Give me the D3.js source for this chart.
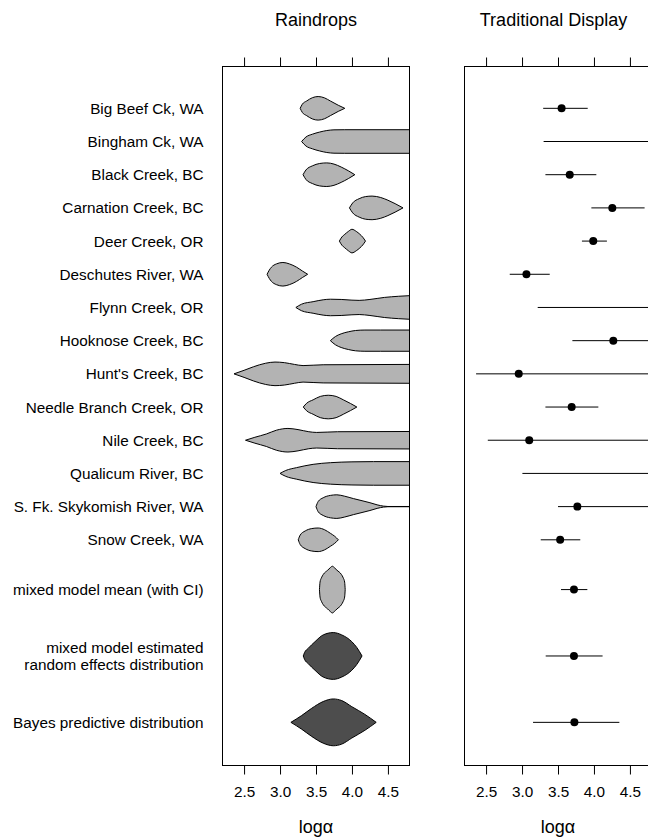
<!DOCTYPE html>
<html><head><meta charset="utf-8">
<script src="https://cdn.jsdelivr.net/npm/d3@7"></script>
<style>
body{margin:0;background:#fff}
svg{display:block}
text{font-family:"Liberation Sans",Arial,Helvetica,sans-serif;fill:#000}
</style>
</head><body>
<svg id="c" width="648" height="840"></svg>
<script>
// ---------- data ----------
const streams = ["Big Beef Ck, WA","Bingham Ck, WA","Black Creek, BC","Carnation Creek, BC","Deer Creek, OR",
  "Deschutes River, WA","Flynn Creek, OR","Hooknose Creek, BC","Hunt's Creek, BC","Needle Branch Creek, OR",
  "Nile Creek, BC","Qualicum River, BC","S. Fk. Skykomish River, WA","Snow Creek, WA"];
const modelLabels = ["mixed model mean (with CI)","mixed model estimated\nrandom effects distribution","Bayes predictive distribution"];
const xTicks = [2.5, 3.0, 3.5, 4.0, 4.5];

// raindrop profiles: [log alpha, relative half-width]
const dropBigBeef   = [[3.28,0],[3.31,0.35],[3.37,0.62],[3.45,0.9],[3.53,1],[3.62,0.88],[3.70,0.62],[3.81,0.26],[3.90,0]];
const dropBingham   = [[3.30,0],[3.36,0.38],[3.45,0.62],[3.55,0.8],[3.65,0.93],[3.75,0.99],[3.9,1],[4.8,1]];
const dropBlack     = [[3.32,0],[3.36,0.4],[3.45,0.75],[3.55,0.95],[3.65,1],[3.75,0.9],[3.85,0.65],[3.95,0.33],[4.04,0]];
const dropCarnation = [[3.965,0],[4.01,0.42],[4.1,0.78],[4.19,0.96],[4.28,1],[4.4,0.88],[4.5,0.65],[4.6,0.36],[4.71,0]];
const dropDeer      = [[3.825,0],[3.86,0.35],[3.90,0.57],[3.95,0.82],[4.0,1],[4.06,0.82],[4.11,0.58],[4.15,0.33],[4.188,0]];
const dropDeschutes = [[2.82,0],[2.85,0.35],[2.88,0.6],[2.95,0.88],[3.04,1],[3.13,0.88],[3.23,0.6],[3.31,0.28],[3.384,0]];
const dropFlynn     = [[3.22,0],[3.3,0.28],[3.46,0.49],[3.6,0.65],[3.7,0.7],[3.85,0.68],[4.0,0.62],[4.1,0.6],[4.25,0.68],[4.45,0.85],[4.65,0.95],[4.8,1.0]];
const dropHooknose  = [[3.70,0],[3.77,0.35],[3.85,0.58],[3.95,0.75],[4.05,0.86],[4.18,0.9],[4.4,0.9],[4.8,0.9]];
const dropHunts     = [[2.36,0],[2.5,0.3],[2.63,0.6],[2.8,0.9],[2.93,1],[3.06,0.95],[3.2,0.8],[3.32,0.7],[3.6,0.77],[4.8,0.8]];
const dropNeedle    = [[3.323,0],[3.37,0.32],[3.46,0.61],[3.56,0.9],[3.67,1],[3.78,0.9],[3.88,0.61],[3.98,0.3],[4.068,0]];
const dropNile      = [[2.52,0],[2.65,0.25],[2.81,0.53],[2.95,0.85],[3.11,1],[3.25,0.9],[3.4,0.72],[3.51,0.66],[3.8,0.72],[4.8,0.74]];
const dropQualicum  = [[3.0,0],[3.08,0.25],[3.23,0.49],[3.46,0.77],[3.7,0.91],[4.0,0.98],[4.3,1],[4.8,1]];
const dropSkykomish = [[3.5,0],[3.53,0.43],[3.6,0.75],[3.7,0.95],[3.79,1],[3.9,0.88],[4.02,0.68],[4.14,0.5],[4.25,0.33],[4.35,0.15],[4.44,0.04],[4.5,0.01],[4.8,0.01]];
const dropSnow      = [[3.253,0],[3.28,0.4],[3.35,0.75],[3.44,0.95],[3.53,1],[3.62,0.85],[3.7,0.55],[3.76,0.3],[3.811,0]];
const dropMean      = [[3.548,0],[3.556,0.32],[3.575,0.5],[3.602,0.65],[3.663,0.83],[3.70,0.94],[3.727,1],[3.754,0.94],[3.791,0.83],[3.852,0.65],[3.879,0.5],[3.898,0.32],[3.906,0]];
const dropRandom    = [[3.323,0],[3.34,0.14],[3.393,0.33],[3.486,0.61],[3.6,0.9],[3.74,1],[3.858,0.9],[3.998,0.61],[4.068,0.36],[4.14,0]];
const dropBayes     = [[3.151,0],[3.3,0.29],[3.44,0.6],[3.6,0.89],[3.74,1],[3.858,0.93],[3.998,0.67],[4.18,0.34],[4.337,0]];

const streamDrops = [dropBigBeef,dropBingham,dropBlack,dropCarnation,dropDeer,dropDeschutes,dropFlynn,
  dropHooknose,dropHunts,dropNeedle,dropNile,dropQualicum,dropSkykomish,dropSnow];
const modelDrops = [dropMean, dropRandom, dropBayes];

// traditional display: estimate and 95% interval
const streamEst = [3.55, 5.2, 3.663, 4.255, 3.99, 3.061, 5.1, 4.269, 2.954, 3.69, 3.10, 5.0, 3.769, 3.53];
const streamLo  = [3.294, 3.30, 3.325, 3.964, 3.833, 2.829, 3.218, 3.70, 2.361, 3.325, 2.524, 3.005, 3.50, 3.26];
const streamHi  = [3.913, 7.0, 4.033, 4.704, 4.18, 3.385, 7.0, 6.0, 6.0, 4.061, 6.0, 7.0, 6.0, 3.81];
const modelEst  = [3.722, 3.722, 3.728];
const modelLo   = [3.542, 3.329, 3.153];
const modelHi   = [3.908, 4.12, 4.353];

// ---------- layout ----------
const svg = d3.select("#c");
const panelTop = 66.5, panelBottom = 765.5;
const y = d3.scaleLinear().domain([-1.26, 19.8]).range([panelTop, panelBottom]);
const xL = d3.scaleLinear().domain([2.2, 4.8]).range([222.5, 409.5]);
const xR = d3.scaleLinear().domain([2.2, 4.8]).range([464.5, 651.5]);
const wS = d3.scaleLinear().domain([0,1]).range([0, 11.8]);
const wM = d3.scaleLinear().domain([0,1]).range([0, 23.4]);

const streamPos = streams.map((d,i)=>i);
const modelPos = modelLabels.map((d,k)=>streams.length - 1 + 1.5 + 2*k);

const defs = svg.append("defs");
[["clipL", xL], ["clipR", xR]].forEach(([id, xs]) => {
  defs.append("clipPath").attr("id", id).append("rect")
    .attr("x", xs.range()[0]).attr("y", panelTop)
    .attr("width", xs.range()[1]-xs.range()[0]).attr("height", panelBottom-panelTop);
});

// row labels
const labFs = 15.3;
function label(txt, pos){
  const lines = txt.split("\n");
  const t = svg.append("text").attr("text-anchor","end").attr("font-size", labFs);
  const yc = y(pos) + 5.5;
  lines.forEach((ln,i)=>{
    t.append("tspan").attr("x", 203.5)
     .attr("y", yc + (i - (lines.length-1)/2) * 17.3).text(ln);
  });
}
streams.forEach((s,i)=>label(s, streamPos[i]));
modelLabels.forEach((s,k)=>label(s, modelPos[k]));

// titles
svg.append("text").attr("x", (xL.range()[0]+xL.range()[1])/2).attr("y", 25.7)
  .attr("text-anchor","middle").attr("font-size", 18).text("Raindrops");
svg.append("text").attr("x", 553.5).attr("y", 25.7)
  .attr("text-anchor","middle").attr("font-size", 18).text("Traditional Display");

// axes + frames
function axes(xs){
  const gT = svg.append("g").attr("transform", `translate(0,${panelTop})`)
    .call(d3.axisTop(xs).tickValues(xTicks).tickSize(9).tickSizeOuter(0).tickFormat(""));
  gT.select(".domain").remove();
  const gB = svg.append("g").attr("transform", `translate(0,${panelBottom})`)
    .call(d3.axisBottom(xs).tickValues(xTicks).tickSize(9).tickSizeOuter(0).tickPadding(12)
      .tickFormat(d3.format(".1f")));
  gB.select(".domain").remove();
  [gT,gB].forEach(g=>{
    g.selectAll("line").attr("stroke","#000");
    g.selectAll("text").attr("font-size", labFs)
      .attr("font-family",'"Liberation Sans",Arial,Helvetica,sans-serif').attr("fill","#000");
  });
  svg.append("rect").attr("x", xs.range()[0]).attr("y", panelTop)
    .attr("width", xs.range()[1]-xs.range()[0]).attr("height", panelBottom-panelTop)
    .attr("fill","none").attr("stroke","#000").attr("stroke-width",1);
  svg.append("text").attr("x", (xs.range()[0]+xs.range()[1])/2).attr("y", 833)
    .attr("text-anchor","middle").attr("font-size", 18).text("logα");
}

// raindrops
const gL = svg.append("g").attr("clip-path","url(#clipL)");
function drop(profile, pos, ws, fill){
  const yc = y(pos);
  const area = d3.area()
    .x(d=>xL(d[0])).y0(d=>yc + ws(d[1])).y1(d=>yc - ws(d[1]))
    .curve(d3.curveMonotoneX);
  gL.append("path").attr("d", area(profile))
    .attr("fill", fill).attr("stroke","#000").attr("stroke-width",1).attr("stroke-linejoin","round");
}
streamDrops.forEach((p,i)=>drop(p, streamPos[i], wS, "#b3b3b3"));
drop(modelDrops[0], modelPos[0], wM, "#b3b3b3");
drop(modelDrops[1], modelPos[1], wM, "#4d4d4d");
drop(modelDrops[2], modelPos[2], wM, "#4d4d4d");

// traditional display
const gR = svg.append("g").attr("clip-path","url(#clipR)");
function ci(est, lo, hi, pos){
  const yc = y(pos);
  gR.append("line").attr("x1", xR(lo)).attr("x2", xR(hi)).attr("y1", yc).attr("y2", yc)
    .attr("stroke","#000").attr("stroke-width",1);
  gR.append("circle").attr("cx", xR(est)).attr("cy", yc).attr("r", 4).attr("fill","#000");
}
streams.forEach((s,i)=>ci(streamEst[i], streamLo[i], streamHi[i], streamPos[i]));
modelLabels.forEach((s,k)=>ci(modelEst[k], modelLo[k], modelHi[k], modelPos[k]));

axes(xL);
axes(xR);
</script>
</body></html>
